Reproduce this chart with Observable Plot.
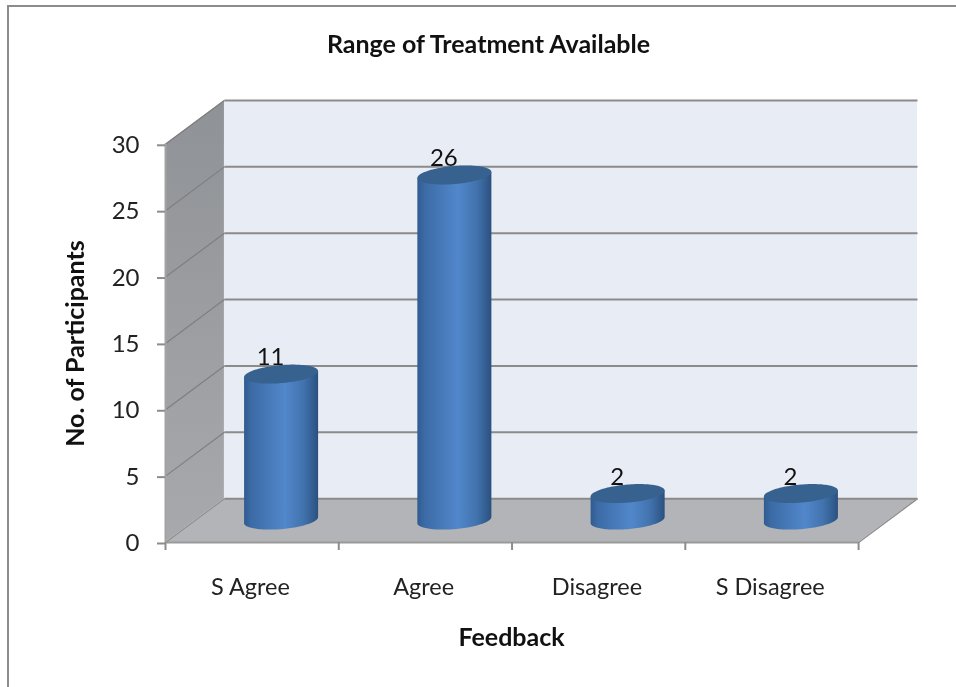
<!DOCTYPE html>
<html>
<head>
<meta charset="utf-8">
<script src="https://cdn.jsdelivr.net/npm/d3@7"></script>
<script src="https://cdn.jsdelivr.net/npm/@observablehq/plot@0.6"></script>
<style>
html,body{margin:0;padding:0;background:#fff;width:956px;height:687px;overflow:hidden}
#frame{position:absolute;left:7px;top:5px;width:960px;height:700px;border-left:2px solid #8c8c8c;border-top:2px solid #8c8c8c;box-sizing:border-box;pointer-events:none}
#chart{position:absolute;left:0;top:0}
#chart svg{background:transparent;filter:blur(0.35px)}
</style>
</head>
<body>
<div id="chart"></div>
<div id="frame"></div>
<script>
const categories = ["S Agree", "Agree", "Disagree", "S Disagree"];
const values = [11, 26, 2, 2];
const yTicks = [0, 5, 10, 15, 20, 25, 30];
const xBoundaries = [0, 1, 2, 3, 4];
const chartTitle = "Range of Treatment Available";
const xTitle = "Feedback";
const yTitle = "No. of Participants";

// depth of the 3D box and cylinder shape, in data units
const depthX = 0.34, depthY = 3.3, yMax = 30;
const radiusX = 0.2136, radiusY = 0.68, shear = 1.058;

const bars = categories.map((c, i) => ({c, i, v: values[i], cx: i + 0.5 + depthX / 2, base: depthY / 2}));
const rimSteps = d3.range(0, 61).map(k => Math.cos(Math.PI * (1 - k / 60)));

const bodyPts = bars.flatMap(b => rimSteps.map(u => {
  const s = shear * radiusX * u, h = radiusY * Math.sqrt(Math.max(0, 1 - u * u));
  return {c: b.c, x: b.cx + radiusX * u, y1: b.base + s - h, y2: b.base + b.v + s};
}));
const capPts = bars.flatMap(b => rimSteps.map(u => {
  const s = shear * radiusX * u, h = radiusY * Math.sqrt(Math.max(0, 1 - u * u));
  return {c: b.c, x: b.cx + radiusX * u, y1: b.base + b.v + s - h, y2: b.base + b.v + s + h};
}));

const wallPts = [{x: 0, y1: 0, y2: yMax}, {x: depthX, y1: depthY, y2: yMax + depthY}];
const floorPts = [
  {x: 0, y1: 0, y2: 0}, {x: depthX, y1: 0, y2: depthY},
  {x: 4, y1: 0, y2: depthY}, {x: 4 + depthX, y1: depthY, y2: depthY}
];
const gridVals = yTicks.filter(v => v > 0);
const textFont = "Lato, 'Open Sans', sans-serif";
const gridGray = "#8b8b8b";

const defs = () => {
  const ns = "http://www.w3.org/2000/svg";
  const d = document.createElementNS(ns, "defs");
  d.innerHTML = `
    <linearGradient id="cyl" x1="0" x2="1" y1="0" y2="0">
      <stop offset="0" stop-color="#2f5b8f"/>
      <stop offset="0.1" stop-color="#3c6ba6"/>
      <stop offset="0.55" stop-color="#5187cb"/>
      <stop offset="0.8" stop-color="#4273ae"/>
      <stop offset="0.95" stop-color="#305a8c"/>
      <stop offset="1" stop-color="#2b4f7c"/>
    </linearGradient>
    <linearGradient id="side" x1="0" x2="0" y1="0" y2="1">
      <stop offset="0" stop-color="#8f9296"/>
      <stop offset="1" stop-color="#a8a9ac"/>
    </linearGradient>`;
  return d;
};

const plot = Plot.plot({
  width: 956, height: 687,
  marginLeft: 165, marginRight: 39, marginTop: 100, marginBottom: 145,
  x: {domain: [0, 4 + depthX], axis: null},
  y: {domain: [0, yMax + depthY], axis: null},
  style: {fontFamily: textFont, background: "transparent", overflow: "visible"},
  marks: [
    defs,
    // back wall, side wall, floor
    Plot.rect([{}], {x1: depthX, x2: 4 + depthX, y1: depthY, y2: yMax + depthY, fill: "#e8ecf5", inset: 0}),
    Plot.areaY(wallPts, {x: "x", y1: "y1", y2: "y2", fill: "url(#side)"}),
    Plot.areaY(floorPts, {x: "x", y1: "y1", y2: "y2", fill: "#b2b4b7"}),
    // gridlines
    Plot.link(gridVals, {x1: depthX, x2: 4 + depthX, y1: v => v + depthY, y2: v => v + depthY, stroke: gridGray, strokeWidth: 2}),
    Plot.link(gridVals, {x1: 0, x2: depthX, y1: v => v, y2: v => v + depthY, stroke: "#7f7f7f", strokeWidth: 1.2}),
    // floor edges
    Plot.link([0], {x1: depthX, x2: 4 + depthX, y1: depthY, y2: depthY, stroke: gridGray, strokeWidth: 2}),
    Plot.link([0], {x1: 0, x2: depthX, y1: 0, y2: depthY, stroke: "#8f8f8f", strokeWidth: 1.2}),
    Plot.link([0], {x1: 4, x2: 4 + depthX, y1: 0, y2: depthY, stroke: "#8f8f8f", strokeWidth: 1.5}),
    Plot.link([0], {x1: 0, x2: 4, y1: 0, y2: 0, stroke: "#9a9a9a", strokeWidth: 2}),
    Plot.ruleX([0], {y1: 0, y2: yMax, stroke: "#a3a3a3", strokeWidth: 2}),
    // axes
    Plot.axisY(yTicks, {
      anchor: "left", label: null, tickSize: 8, tickPadding: 18, fontSize: 24,
      stroke: "#8c8c8c", strokeWidth: 2, strokeOpacity: 1, fill: "#222", dy: 1,
      textStroke: "none", tickFormat: d => d
    }),
    Plot.axisX(xBoundaries, {
      anchor: "bottom", label: null, tickSize: 8, tickFormat: () => "",
      stroke: "#8c8c8c", strokeWidth: 2, strokeOpacity: 1
    }),
    Plot.axisX(categories.map((c, i) => i + 0.49), {
      anchor: "bottom", label: null, tickSize: 0, tickPadding: 36, fontSize: 23.5,
      fill: "#222", tickFormat: (d, i) => categories[i]
    }),
    // cylinders
    Plot.areaY(bodyPts, {x: "x", y1: "y1", y2: "y2", z: "c", fill: "url(#cyl)"}),
    Plot.areaY(capPts, {x: "x", y1: "y1", y2: "y2", z: "c", fill: "#37618f"}),
    // data labels
    Plot.text(bars, {x: "cx", y: b => b.base + b.v, text: "v", dx: -11, dy: -17, fontSize: 24, fill: "#111"}),
    // titles
    Plot.text([chartTitle], {frameAnchor: "top", dx: -53, dy: -65, fontSize: 25, fontWeight: 700, fill: "#111"}),
    Plot.text([xTitle], {frameAnchor: "bottom", dx: -30, dy: 103, fontSize: 25, fontWeight: 700, fill: "#111"}),
    Plot.text([yTitle], {frameAnchor: "left", textAnchor: "middle", rotate: -90, dx: -90, dy: 22, fontSize: 25, fontWeight: 700, fill: "#111"})
  ]
});
document.getElementById("chart").appendChild(plot);
</script>
</body>
</html>
